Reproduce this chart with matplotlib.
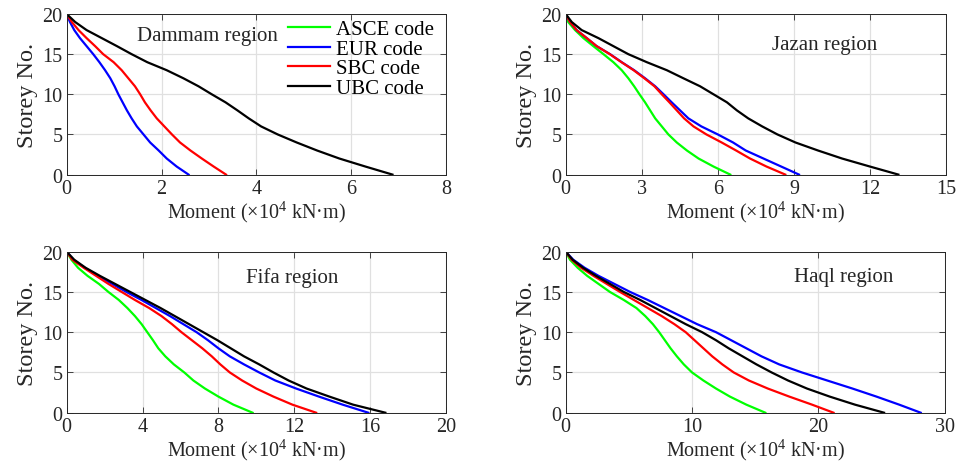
import matplotlib
matplotlib.use("Agg")
import matplotlib.pyplot as plt

plt.rcParams["font.family"] = ["Liberation Serif", "DejaVu Serif"]
plt.rcParams["mathtext.fontset"] = "custom"
plt.rcParams["mathtext.rm"] = "Liberation Serif"
plt.rcParams["font.size"] = 14.5

# storey levels, ground (0) to roof (20)
storeys = list(range(21))

# bending moment (x10^4 kN.m) at each storey, listed from storey 0 upward
dammam_eur = [2.57, 2.32, 2.11, 1.94, 1.76, 1.62, 1.48, 1.37, 1.27, 1.18, 1.09,
              1.01, 0.92, 0.81, 0.69, 0.56, 0.42, 0.28, 0.16, 0.07, 0.0]
dammam_sbc = [3.36, 3.10, 2.85, 2.61, 2.39, 2.22, 2.06, 1.90, 1.77, 1.65, 1.55,
              1.44, 1.30, 1.16, 0.99, 0.77, 0.60, 0.42, 0.25, 0.11, 0.0]
dammam_ubc = [6.87, 6.30, 5.75, 5.28, 4.85, 4.45, 4.10, 3.84, 3.60, 3.35, 3.06,
              2.78, 2.46, 2.11, 1.70, 1.37, 1.06, 0.74, 0.42, 0.18, 0.0]

jazan_asce = [6.49, 5.83, 5.24, 4.78, 4.38, 4.05, 3.79, 3.53, 3.33, 3.13, 2.91,
              2.70, 2.47, 2.21, 1.88, 1.49, 1.09, 0.70, 0.37, 0.10, 0.0]
jazan_eur = [9.20, 8.50, 7.80, 7.10, 6.60, 6.00, 5.35, 4.84, 4.51, 4.18, 3.86,
             3.53, 3.13, 2.70, 2.21, 1.75, 1.22, 0.83, 0.43, 0.17, 0.0]
jazan_sbc = [8.66, 7.92, 7.27, 6.72, 6.15, 5.55, 5.04, 4.67, 4.38, 4.09, 3.79,
             3.50, 3.10, 2.68, 2.20, 1.74, 1.22, 0.83, 0.43, 0.17, 0.0]
jazan_ubc = [13.12, 12.0, 10.9, 9.95, 9.06, 8.35, 7.75, 7.20, 6.75, 6.36, 5.83,
             5.30, 4.64, 3.99, 3.20, 2.47, 1.88, 1.29, 0.63, 0.24, 0.0]

fifa_asce = [9.80, 8.79, 8.00, 7.29, 6.68, 6.20, 5.65, 5.20, 4.83, 4.55, 4.25,
             3.95, 3.60, 3.20, 2.75, 2.20, 1.70, 1.10, 0.60, 0.25, 0.0]
fifa_eur = [15.9, 14.55, 13.3, 12.1, 11.0, 10.15, 9.35, 8.60, 8.00, 7.45, 6.85,
            6.15, 5.45, 4.70, 3.95, 3.15, 2.40, 1.65, 0.95, 0.35, 0.0]
fifa_sbc = [13.15, 11.9, 10.9, 10.0, 9.25, 8.60, 8.10, 7.65, 7.15, 6.60, 6.05,
            5.55, 5.00, 4.35, 3.60, 2.90, 2.20, 1.55, 0.90, 0.30, 0.0]
fifa_ubc = [16.8, 15.1, 13.85, 12.65, 11.7, 10.9, 10.15, 9.35, 8.65, 7.95, 7.20,
            6.45, 5.70, 4.95, 4.15, 3.35, 2.55, 1.75, 1.00, 0.40, 0.0]

haql_asce = [15.8, 14.3, 13.0, 11.9, 10.9, 10.0, 9.35, 8.80, 8.30, 7.85, 7.40,
             6.90, 6.30, 5.60, 4.60, 3.50, 2.60, 1.70, 0.95, 0.34, 0.0]
haql_eur = [28.1, 26.4, 24.6, 22.7, 20.7, 18.7, 16.9, 15.5, 14.3, 13.1, 11.9,
            10.4, 9.10, 7.80, 6.50, 5.10, 3.85, 2.60, 1.50, 0.60, 0.0]
haql_sbc = [21.2, 19.5, 17.7, 16.0, 14.5, 13.3, 12.4, 11.6, 10.9, 10.2, 9.50,
            8.60, 7.60, 6.50, 5.40, 4.30, 3.25, 2.20, 1.22, 0.47, 0.0]
haql_ubc = [25.2, 22.9, 20.9, 19.1, 17.6, 16.3, 15.1, 14.0, 12.9, 11.9, 10.8,
            9.50, 8.30, 7.10, 5.90, 4.60, 3.50, 2.40, 1.38, 0.55, 0.0]

codes = ["ASCE code", "EUR code", "SBC code", "UBC code"]
colors = ["#00ff00", "#0000ff", "#ff0000", "#000000"]

regions = ["Dammam region", "Jazan region", "Fifa region", "Haql region"]
series = [
    [None, dammam_eur, dammam_sbc, dammam_ubc],
    [jazan_asce, jazan_eur, jazan_sbc, jazan_ubc],
    [fifa_asce, fifa_eur, fifa_sbc, fifa_ubc],
    [haql_asce, haql_eur, haql_sbc, haql_ubc],
]
xlims = [8, 15, 20, 30]
xticks = [[0, 2, 4, 6, 8], [0, 3, 6, 9, 12, 15], [0, 4, 8, 12, 16, 20], [0, 10, 20, 30]]
label_pos = [(0.185, 0.869), (0.543, 0.813), (0.473, 0.845), (0.602, 0.845)]

axes_rect = [
    [0.0696, 0.6216, 0.396, 0.346],
    [0.5905, 0.6216, 0.397, 0.346],
    [0.0696, 0.1084, 0.396, 0.347],
    [0.5905, 0.1084, 0.3956, 0.347],
]

fig = plt.figure(figsize=(9.58, 4.64), dpi=100)

for i in range(4):
    ax = fig.add_axes(axes_rect[i])
    for code, col, xs in zip(codes, colors, series[i]):
        if xs is None:
            # no ASCE curve for this region, legend entry only
            ax.plot([], [], color=col, lw=1.6, label=code)
        else:
            ax.plot(xs, storeys, color=col, lw=1.6, label=code,
                    solid_joinstyle="round")
    ax.set_xlim(0, xlims[i])
    ax.set_ylim(0, 20)
    ax.set_xticks(xticks[i])
    ax.set_yticks([0, 5, 10, 15, 20])
    ax.grid(True, color="#e0e0e0", lw=0.9)
    ax.set_axisbelow(True)
    ax.tick_params(direction="in", top=True, right=True, length=4,
                   width=0.6, color="#262626", labelcolor="#262626", pad=3)
    for s in ax.spines.values():
        s.set_color("#262626")
        s.set_linewidth(0.7)
    ax.set_xlabel("Moment (×10$^{4}$ kN·m)", color="#262626", fontsize=14.5, labelpad=0.5)
    ax.set_ylabel("Storey No.", color="#262626", fontsize=17.5, labelpad=3)
    ax.text(label_pos[i][0], label_pos[i][1], regions[i], transform=ax.transAxes,
            ha="left", va="center", color="#262626", fontsize=15)
    if i == 0:
        ax.legend(loc="upper right", bbox_to_anchor=(0.968, 0.965), frameon=False,
                  fontsize=15, handlelength=2.0, handletextpad=0.3,
                  labelspacing=0.0, borderpad=0, borderaxespad=0)

fig.savefig("out.png", dpi=100)
